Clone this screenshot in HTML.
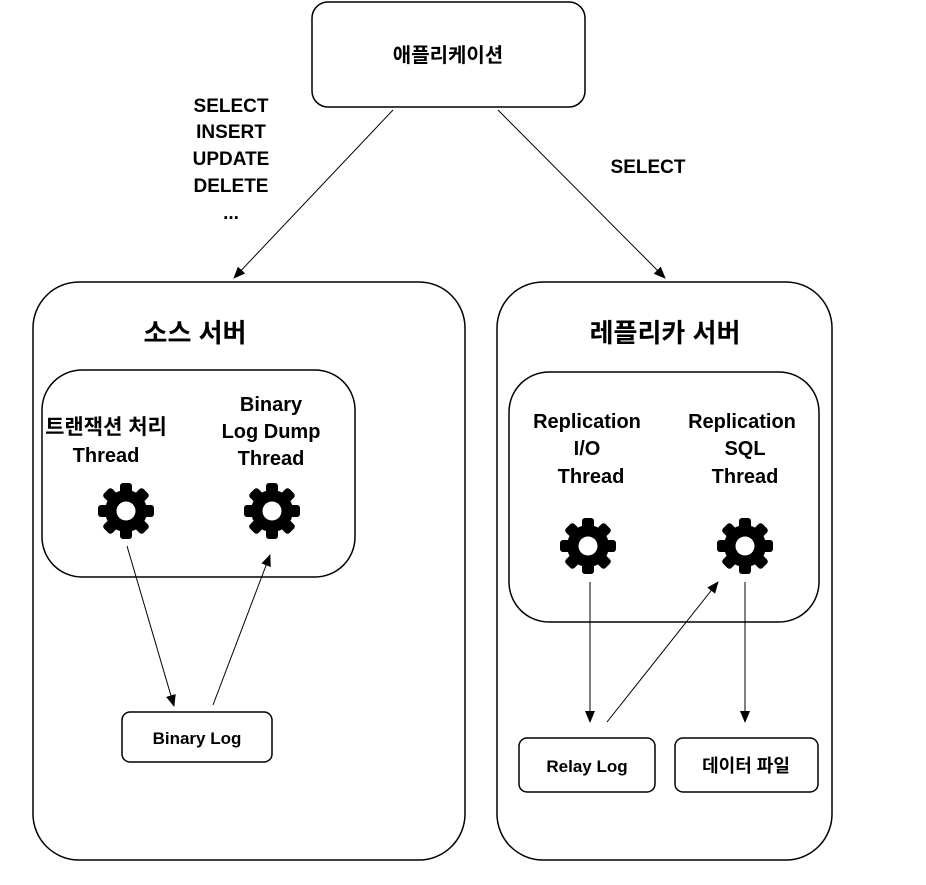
<!DOCTYPE html>
<html><head><meta charset="utf-8"><style>
html,body{margin:0;padding:0;background:#fff}
svg text{font-family:"Liberation Sans","Noto Sans CJK KR",sans-serif;font-weight:bold;fill:#000;text-anchor:middle}
</style></head><body>
<svg width="926" height="880" viewBox="0 0 926 880" xmlns="http://www.w3.org/2000/svg">
<defs>
<marker id="a" markerWidth="12" markerHeight="10" refX="11" refY="5" orient="auto" markerUnits="userSpaceOnUse">
<path d="M0,0 L12,5 L0,10 Z" fill="#000"/></marker>
<g id="g">
<circle r="21" fill="#000"/>
<rect x="-6" y="-28" width="12" height="56" rx="3" fill="#000"/>
<rect x="-6" y="-28" width="12" height="56" rx="3" fill="#000" transform="rotate(45)"/>
<rect x="-6" y="-28" width="12" height="56" rx="3" fill="#000" transform="rotate(90)"/>
<rect x="-6" y="-28" width="12" height="56" rx="3" fill="#000" transform="rotate(135)"/>
<circle r="9.5" fill="#fff"/>
</g>
</defs>
<g fill="none" stroke="#000" stroke-width="1.5">
<rect x="312" y="2" width="273" height="105" rx="16"/>
<rect x="33" y="282" width="432" height="578" rx="46"/>
<rect x="42" y="370" width="313" height="207" rx="40"/>
<rect x="122" y="712" width="150" height="50" rx="8"/>
<rect x="497" y="282" width="335" height="578" rx="46"/>
<rect x="509" y="372" width="310" height="250" rx="40"/>
<rect x="519" y="738" width="136" height="54" rx="8"/>
<rect x="675" y="738" width="143" height="54" rx="8"/>
</g>
<g stroke="#000" stroke-width="1">
<line x1="393" y1="110" x2="234" y2="278" marker-end="url(#a)"/>
<line x1="498" y1="110" x2="665" y2="278" marker-end="url(#a)"/>
<line x1="127" y1="546" x2="174" y2="706" marker-end="url(#a)"/>
<line x1="213" y1="705" x2="270" y2="555" marker-end="url(#a)"/>
<line x1="590" y1="582" x2="590" y2="722" marker-end="url(#a)"/>
<line x1="607" y1="722" x2="718" y2="582" marker-end="url(#a)"/>
<line x1="745" y1="582" x2="745" y2="722" marker-end="url(#a)"/>
</g>
<use href="#g" x="126" y="511"/>
<use href="#g" x="272" y="511"/>
<use href="#g" x="588" y="546"/>
<use href="#g" x="745" y="546"/>
<text x="448" y="62" font-size="20">애플리케이션</text>
<g font-size="19">
<text x="231" y="112">SELECT</text>
<text x="231" y="138">INSERT</text>
<text x="231" y="165">UPDATE</text>
<text x="231" y="192">DELETE</text>
<text x="231" y="219">...</text>
<text x="648" y="173">SELECT</text>
</g>
<text x="195" y="342" font-size="26">소스 서버</text>
<text x="665" y="342" font-size="26">레플리카 서버</text>
<g font-size="20">
<text x="106" y="434" font-size="21">트랜잭션 처리</text>
<text x="106" y="462">Thread</text>
<text x="271" y="411">Binary</text>
<text x="271" y="438">Log Dump</text>
<text x="271" y="465">Thread</text>
<text x="587" y="428">Replication</text>
<text x="587" y="455">I/O</text>
<text x="591" y="483">Thread</text>
<text x="742" y="428">Replication</text>
<text x="745" y="455">SQL</text>
<text x="745" y="483">Thread</text>
</g>
<g font-size="17">
<text x="197" y="744">Binary Log</text>
<text x="587" y="772">Relay Log</text>
<text x="746" y="772" font-size="18">데이터 파일</text>
</g>
</svg>
</body></html>
